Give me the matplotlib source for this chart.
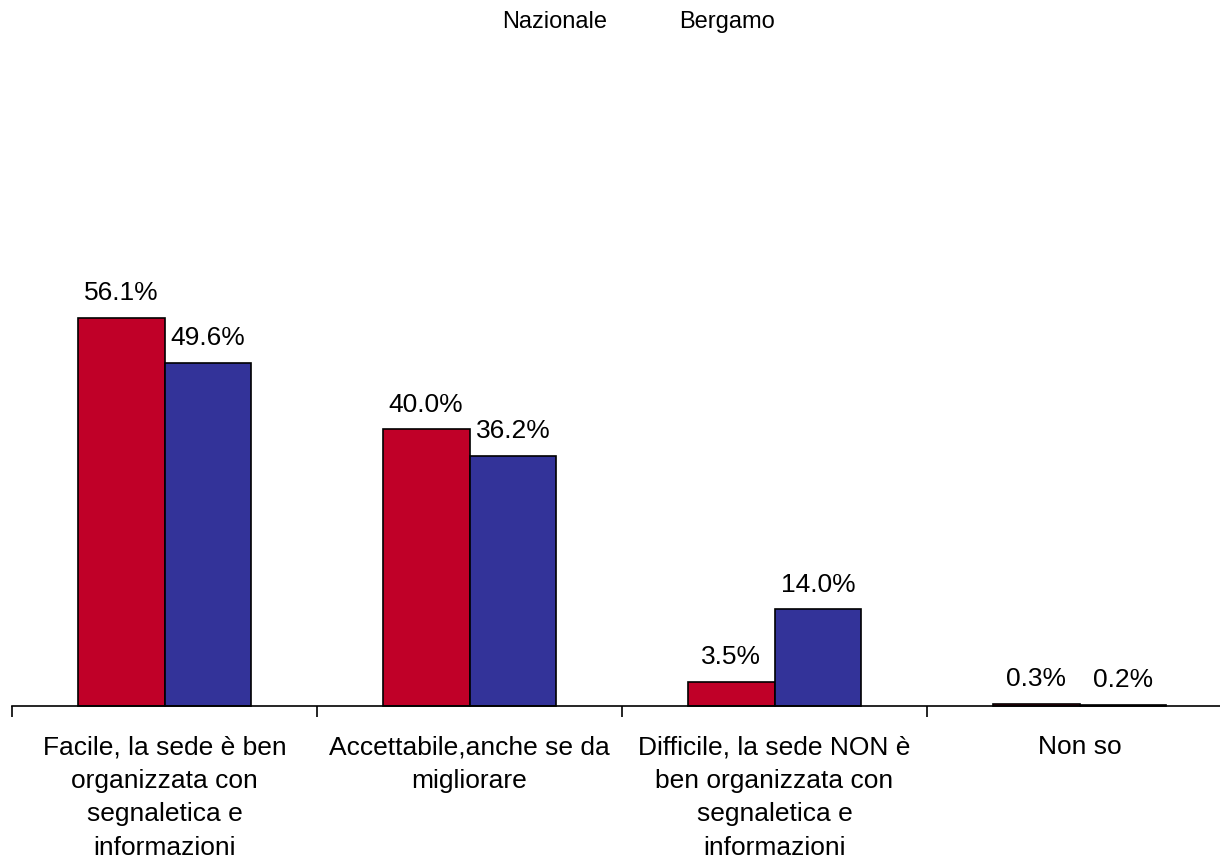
import matplotlib
matplotlib.use('Agg')
import matplotlib.pyplot as plt
import numpy as np

# categories and series
categories = ["Facile, la sede è ben\norganizzata con\nsegnaletica e\ninformazioni",
              "Accettabile,anche se da\nmigliorare",
              "Difficile, la sede NON è\nben organizzata con\nsegnaletica e\ninformazioni",
              "Non so"]
series_names = ["Nazionale", "Bergamo"]
nazionale = [56.1, 40.0, 3.5, 0.3]
bergamo = [49.6, 36.2, 14.0, 0.2]
colors = ["#C00028", "#333399"]

plt.rcParams['font.family'] = ['Liberation Sans', 'DejaVu Sans']

fig = plt.figure(figsize=(12.2, 8.61), dpi=100)
# axes spans x 12..1232 px, baseline at y=706 px
ax = fig.add_axes([12 / 1220, (861 - 706) / 861, 1220 / 1220, 415 / 861])

x = np.arange(len(categories))
w = 0.285
for i, (vals, col) in enumerate(zip([nazionale, bergamo], colors)):
    pos = x + (i - 0.5) * w
    ax.bar(pos, vals, w, color=col, edgecolor="black", linewidth=1.2, clip_on=False)
    for p, v in zip(pos, vals):
        ax.annotate("%.1f%%" % v, (p, v), xytext=(0, 9), textcoords="offset points",
                    ha="center", va="bottom", fontsize=19)

ax.set_xlim(-0.5, len(categories) - 0.5)
ax.set_ylim(0, 60)
for s in ["top", "right", "left"]:
    ax.spines[s].set_visible(False)
ax.spines["bottom"].set_linewidth(1.2)
ax.set_yticks([])
ax.set_xticks(x)
ax.set_xticklabels(categories, fontsize=19, linespacing=1.5, va="top")
ax.tick_params(axis="x", which="major", length=0, pad=21)
ax.set_xticks(np.arange(len(categories)) - 0.5, minor=True)
ax.tick_params(axis="x", which="minor", length=8, width=1.2, direction="out")

# legend (text only, no markers)
fig.text(555 / 1220, 1 - 22 / 861, series_names[0], ha="center", va="center", fontsize=17)
fig.text(727 / 1220, 1 - 22 / 861, series_names[1], ha="center", va="center", fontsize=17)

fig.savefig("out.png", dpi=100)
